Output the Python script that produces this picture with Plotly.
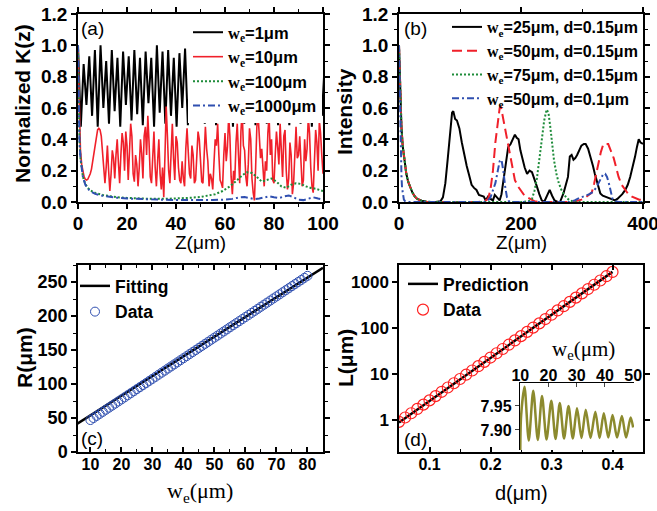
import plotly.graph_objects as go

W, H = 657, 511
def PX(x):
    return x / W
def PY(y):
    return 1 - y / H

# ---------------- data: panel (a) ----------------
a_black_step = 1.15
a_black = [1.00, 0.48, 0.88, 0.62, 0.93, 0.55, 0.97, 0.48, 1.00, 0.60,
           0.90, 0.50, 0.97, 0.58, 0.92, 0.48, 0.96, 0.62, 0.93, 0.52,
           0.97, 0.56, 0.92, 0.49, 0.96, 0.63, 0.92, 0.48, 1.00, 0.57,
           0.96, 0.50, 0.97, 0.55, 0.92, 0.48, 0.95, 0.60, 0.98, 0.49,
           0.92, 0.58, 0.96, 0.62, 0.93, 0.50, 0.97, 0.56, 0.90, 0.49,
           0.98, 0.60, 0.94, 0.55, 0.96, 0.48, 0.92, 0.62, 0.97, 0.50,
           0.95, 0.57, 0.99, 0.49, 0.93, 0.60, 0.96, 0.50, 0.92, 0.58,
           0.97, 0.49, 0.94, 0.62, 0.96, 0.49, 0.91, 0.56, 0.98, 0.50,
           0.93, 0.60, 0.96, 0.48, 0.92, 0.58, 0.88, 0.55]
a_red_step = 0.5
a_red = [1.00, 0.55, 0.33, 0.24, 0.19, 0.16, 0.145, 0.14, 0.145, 0.16,
         0.18, 0.21, 0.26, 0.32, 0.38, 0.43, 0.46, 0.47, 0.46, 0.42,
         0.33, 0.22, 0.12, 0.22, 0.36, 0.20, 0.07, 0.18, 0.33, 0.28,
         0.15, 0.30, 0.40, 0.25, 0.12, 0.30, 0.44, 0.38, 0.20, 0.45,
         0.36, 0.14, 0.28, 0.50, 0.42, 0.18, 0.13, 0.30, 0.24, 0.10,
         0.22, 0.40, 0.31, 0.15, 0.42, 0.48, 0.30, 0.55, 0.38, 0.16,
         0.12, 0.32, 0.45, 0.22, 0.10, 0.26, 0.40, 0.18, 0.08, 0.22,
         0.03, 0.30, 0.61, 0.42, 0.20, 0.12, 0.35, 0.50, 0.28, 0.14,
         0.42, 0.38, 0.22, 0.14, 0.12, 0.26, 0.15, 0.10, 0.34, 0.47,
         0.32, 0.18, 0.15, 0.36, 0.30, 0.12, 0.14, 0.28, 0.45, 0.40,
         0.22, 0.13, 0.12, 0.30, 0.48, 0.34, 0.26, 0.10, 0.18, 0.15,
         0.08, 0.25, 0.40, 0.36, 0.50, 0.30, 0.14, 0.12, 0.09, 0.30,
         0.44, 0.26, 0.35, 0.55, 0.42, 0.16, 0.05, 0.20, 0.14, 0.38,
         0.50, 0.30, 0.12, 0.45, 0.58, 0.36, 0.33, 0.16, 0.10, 0.24,
         0.47, 0.40, 0.15, 0.06, 0.01, 0.22, 0.48, 0.56, 0.42, 0.28,
         0.34, 0.18, 0.10, 0.26, 0.20, 0.44, 0.55, 0.30, 0.40, 0.14,
         0.12, 0.30, 0.45, 0.35, 0.24, 0.50, 0.32, 0.16, 0.42, 0.46,
         0.20, 0.08, 0.15, 0.38, 0.30, 0.05, 0.12, 0.36, 0.48, 0.28,
         0.30, 0.42, 0.25, 0.10, 0.14, 0.40, 0.26, 0.34, 0.54, 0.44,
         0.22, 0.10, 0.06, 0.30, 0.46, 0.38, 0.20, 0.52, 0.44, 0.30,
         0.18]
a_green_z = [0, 0.3, 0.6, 1, 1.5, 2, 3, 4, 5, 7, 10, 13, 16, 20, 25, 30, 35, 40, 45, 50,
             53, 56, 59, 62, 65, 67, 69, 71, 73, 75, 77, 79, 81, 83, 85, 87, 89, 91, 93,
             95, 97, 100]
a_green = [1.0, 0.6, 0.4, 0.28, 0.2, 0.16, 0.115, 0.09, 0.075, 0.058, 0.045, 0.036, 0.03,
           0.026, 0.022, 0.02, 0.02, 0.022, 0.026, 0.032, 0.04, 0.05, 0.07, 0.1, 0.14,
           0.17, 0.19, 0.185, 0.16, 0.13, 0.14, 0.15, 0.13, 0.1, 0.09, 0.11, 0.12, 0.115,
           0.1, 0.09, 0.085, 0.07]
a_blue_z = [0, 0.3, 0.6, 1, 1.5, 2, 3, 4, 5, 7, 10, 13, 16, 20, 25, 30, 35, 40, 45, 50,
            55, 60, 63, 66, 68, 70, 72, 74, 76, 78, 80, 82, 84, 86, 88, 90, 92, 94, 96,
            98, 100]
a_blue = [1.0, 0.6, 0.4, 0.28, 0.2, 0.16, 0.11, 0.085, 0.07, 0.052, 0.04, 0.032, 0.027,
          0.022, 0.018, 0.016, 0.014, 0.013, 0.012, 0.012, 0.013, 0.015, 0.02, 0.03,
          0.032, 0.025, 0.018, 0.022, 0.03, 0.036, 0.03, 0.025, 0.035, 0.042, 0.03,
          0.015, 0.012, 0.02, 0.03, 0.022, 0.015]

# ---------------- data: panel (b) ----------------
b_black_z = [0, 2, 4, 6, 9, 12, 15, 18, 22, 26, 30, 37, 45, 60, 68, 72, 76, 80, 84, 87,
             89, 92, 95, 99, 103, 107, 111, 115, 119, 123, 127, 131, 135, 139, 142, 146,
             150, 154, 157, 161, 165, 168, 171, 175, 179, 183, 187, 190, 193, 196, 199,
             202, 206, 210, 214, 218, 222, 226, 230, 234, 238, 242, 247, 251, 255, 260,
             264, 270, 274, 277, 280, 283, 286, 289, 292, 296, 299, 303, 306, 310, 314,
             318, 321, 324, 327, 330, 334, 338, 342, 346, 350, 354, 358, 362, 366, 371,
             375, 379, 383, 387, 390, 393, 396, 400]
b_black = [1.0, 0.72, 0.48, 0.36, 0.25, 0.18, 0.13, 0.095, 0.06, 0.035, 0.02, 0.008,
           0.002, 0.0, 0.005, 0.03, 0.12, 0.28, 0.45, 0.57, 0.58, 0.53, 0.52, 0.47, 0.38,
           0.3, 0.23, 0.17, 0.11, 0.09, 0.077, 0.045, 0.04, 0.035, 0.01, 0.035, 0.02,
           0.01, 0.045, 0.03, 0.01, 0.05, 0.14, 0.25, 0.35, 0.37, 0.40, 0.43, 0.41, 0.40,
           0.33, 0.28, 0.22, 0.18, 0.20, 0.19, 0.15, 0.10, 0.05, 0.01, 0.0, 0.03, 0.077,
           0.04, 0.01, 0.0, 0.0, 0.06, 0.12, 0.16, 0.29, 0.30, 0.27, 0.28, 0.30, 0.34,
           0.36, 0.37, 0.37, 0.34, 0.29, 0.23, 0.18, 0.14, 0.09, 0.055, 0.04, 0.034,
           0.03, 0.023, 0.015, 0.01, 0.02, 0.034, 0.05, 0.077, 0.11, 0.16, 0.22, 0.29,
           0.35, 0.40, 0.38, 0.37]
b_red_z = [0, 2, 4, 6, 9, 12, 15, 18, 22, 26, 30, 37, 45, 60, 130, 140, 146, 150, 154,
           158, 162, 165, 167, 170, 174, 178, 182, 186, 190, 195, 199, 204, 210, 216,
           222, 230, 280, 290, 299, 306, 312, 316, 320, 324, 327, 331, 335, 339, 343,
           347, 352, 356, 360, 365, 371, 376, 382, 388, 394, 400]
b_red = [1.0, 0.72, 0.48, 0.36, 0.25, 0.18, 0.13, 0.095, 0.06, 0.035, 0.02, 0.008, 0.002,
         0.0, 0.0, 0.005, 0.02, 0.08, 0.2, 0.38, 0.52, 0.6, 0.61, 0.55, 0.47, 0.4, 0.3,
         0.22, 0.14, 0.1, 0.077, 0.05, 0.03, 0.015, 0.005, 0.0, 0.0, 0.005, 0.015, 0.03,
         0.05, 0.06, 0.12, 0.2, 0.25, 0.32, 0.37, 0.37, 0.37, 0.33, 0.28, 0.22, 0.16,
         0.11, 0.077, 0.05, 0.034, 0.025, 0.015, 0.012]
b_green_z = [0, 2, 4, 6, 9, 12, 15, 18, 22, 26, 30, 37, 45, 60, 200, 212, 218, 222, 226,
             230, 234, 238, 242, 245, 248, 251, 254, 258, 262, 266, 270, 275, 280, 288, 400]
b_green = [1.0, 0.72, 0.48, 0.36, 0.25, 0.18, 0.13, 0.095, 0.06, 0.035, 0.02, 0.008,
           0.002, 0.0, 0.0, 0.005, 0.02, 0.07, 0.15, 0.27, 0.4, 0.52, 0.59, 0.57, 0.48,
           0.36, 0.27, 0.18, 0.12, 0.08, 0.05, 0.025, 0.01, 0.0, 0.0]
b_blue_z = [0, 1, 2, 3, 4, 5, 6, 8, 10, 14, 140, 146, 150, 154, 158, 162, 165, 168, 171,
            174, 177, 180, 185, 280, 288, 295, 300, 306, 312, 318, 323, 327, 331, 335,
            338, 341, 344, 347, 350, 354, 360, 400]
b_blue = [1.0, 0.75, 0.5, 0.3, 0.17, 0.09, 0.05, 0.015, 0.005, 0.0, 0.0, 0.01, 0.03,
          0.07, 0.12, 0.2, 0.26, 0.27, 0.2, 0.1, 0.03, 0.005, 0.0, 0.0, 0.01, 0.025,
          0.034, 0.04, 0.05, 0.065, 0.09, 0.12, 0.15, 0.18, 0.18, 0.16, 0.12, 0.06, 0.02,
          0.005, 0.0, 0.0]

# ---------------- data: panel (c) ----------------
c_w = [10, 11, 12, 13, 14, 15, 16, 17, 18, 19, 20, 21, 22, 23, 24, 25, 26, 27, 28, 29,
       30, 31, 32, 33, 34, 35, 36, 37, 38, 39, 40, 41, 42, 43, 44, 45, 46, 47, 48, 49,
       50, 51, 52, 53, 54, 55, 56, 57, 58, 59, 60, 61, 62, 63, 64, 65, 66, 67, 68, 69,
       70, 71, 72, 73, 74, 75, 76, 77, 78, 79, 80]
c_R = [47.0, 50.0, 53.1, 56.1, 59.1, 62.2, 65.2, 68.2, 71.2, 74.3, 77.3, 80.3, 83.4,
       86.4, 89.4, 92.5, 95.5, 98.5, 101.5, 104.6, 107.6, 110.6, 113.7, 116.7, 119.7,
       122.8, 125.8, 128.8, 131.8, 134.9, 137.9, 140.9, 144.0, 147.0, 150.0, 153.1,
       156.1, 159.1, 162.1, 165.2, 168.2, 171.2, 174.3, 177.3, 180.3, 183.4, 186.4,
       189.4, 192.4, 195.5, 198.5, 201.5, 204.6, 207.6, 210.6, 213.7, 216.7, 219.7,
       222.7, 225.8, 228.8, 231.8, 234.9, 237.9, 240.9, 244.0, 247.0, 250.0, 253.0,
       256.1, 259.1]
c_fit_w = [5, 85]
c_fit_R = [39.5, 271.0]

# ---------------- data: panel (d) ----------------
d_d = [0.05, 0.06, 0.07, 0.08, 0.09, 0.10, 0.11, 0.12, 0.13, 0.14, 0.15, 0.16, 0.17,
       0.18, 0.19, 0.20, 0.21, 0.22, 0.23, 0.24, 0.25, 0.26, 0.27, 0.28, 0.29, 0.30,
       0.31, 0.32, 0.33, 0.34, 0.35, 0.36, 0.37, 0.38, 0.39, 0.40]
d_L = [0.91, 1.13, 1.40, 1.74, 2.16, 2.67, 3.31, 4.11, 5.10, 6.32, 7.83, 9.71, 12.0,
       14.9, 18.5, 23.0, 28.5, 35.3, 43.8, 54.3, 67.3, 83.4, 103.5, 128, 159, 197,
       245, 303, 376, 466, 578, 717, 889, 1102, 1367, 1694]
d_pred_d = [0.05, 0.40]
d_pred_L = [0.88, 1700]
d_ticks = [1, 10, 100, 1000]

# inset of (d)
ins_w = [10.0, 10.3, 11.5, 13.0, 14.6, 16.2, 17.7, 19.3, 21.0, 22.5, 24.0, 25.5, 27.1,
         28.6, 30.1, 31.7, 33.2, 34.9, 36.6, 38.1, 39.6, 41.2, 42.7, 44.3, 46.0, 47.5,
         49.1, 50.0]
ins_v = [7.858, 7.93, 7.990, 7.878, 7.982, 7.879, 7.971, 7.880, 7.961, 7.881, 7.956,
         7.882, 7.950, 7.882, 7.945, 7.883, 7.942, 7.883, 7.938, 7.883, 7.935, 7.884,
         7.931, 7.884, 7.929, 7.884, 7.926, 7.905]
ins_ticks = [7.90, 7.95]

# ---------------- styles ----------------
BLACK = "#000000"
RED = "#f0202a"
GREEN = "#1e8c3a"
BLUE = "#2f4fb0"
OLIVE = "#8c8a2e"
SANS = "Liberation Sans"
SERIF = "Liberation Serif"

def wlab(rest):
    return ('<b><span style="font-family:%s">w</span><sub><span style="font-family:%s">e</span></sub>%s</b>'
            % (SERIF, SERIF, rest))

fig = go.Figure()

a_black_z = [i * a_black_step for i in range(len(a_black))]
a_red_z = [i * a_red_step for i in range(len(a_red))]

fig.add_trace(go.Scatter(x=a_black_z, y=a_black, mode="lines", name=wlab("=1μm"),
                         line=dict(color=BLACK, width=2), xaxis="x", yaxis="y", legend="legend"))
fig.add_trace(go.Scatter(x=a_red_z, y=a_red, mode="lines", name=wlab("=10μm"),
                         line=dict(color=RED, width=1.6), xaxis="x", yaxis="y", legend="legend"))
fig.add_trace(go.Scatter(x=a_green_z, y=a_green, mode="lines", name=wlab("=100μm"),
                         line=dict(color=GREEN, width=2, dash="2px,2px"), xaxis="x", yaxis="y",
                         legend="legend"))
fig.add_trace(go.Scatter(x=a_blue_z, y=a_blue, mode="lines", name=wlab("=1000μm"),
                         line=dict(color=BLUE, width=2, dash="7px,3px,2px,3px"), xaxis="x",
                         yaxis="y", legend="legend"))

fig.add_trace(go.Scatter(x=b_black_z, y=b_black, mode="lines", name=wlab("=25μm, d=0.15μm"),
                         line=dict(color=BLACK, width=2), xaxis="x2", yaxis="y2", legend="legend2"))
fig.add_trace(go.Scatter(x=b_red_z, y=b_red, mode="lines", name=wlab("=50μm, d=0.15μm"),
                         line=dict(color=RED, width=2, dash="10px,5px"), xaxis="x2", yaxis="y2",
                         legend="legend2"))
fig.add_trace(go.Scatter(x=b_green_z, y=b_green, mode="lines", name=wlab("=75μm, d=0.15μm"),
                         line=dict(color=GREEN, width=2, dash="2px,2px"), xaxis="x2", yaxis="y2",
                         legend="legend2"))
fig.add_trace(go.Scatter(x=b_blue_z, y=b_blue, mode="lines", name=wlab("=50μm, d=0.1μm"),
                         line=dict(color=BLUE, width=2, dash="7px,3px,2px,3px"), xaxis="x2",
                         yaxis="y2", legend="legend2"))

fig.add_trace(go.Scatter(x=c_fit_w, y=c_fit_R, mode="lines", name="<b>Fitting</b>",
                         line=dict(color=BLACK, width=2.5), xaxis="x3", yaxis="y3", legend="legend3"))
fig.add_trace(go.Scatter(x=c_w, y=c_R, mode="markers", name="<b>Data</b>",
                         marker=dict(symbol="circle-open", size=9, color=BLUE, line=dict(width=1)),
                         xaxis="x3", yaxis="y3", legend="legend3"))

fig.add_trace(go.Scatter(x=d_pred_d, y=d_pred_L, mode="lines", name="<b>Prediction</b>",
                         line=dict(color=BLACK, width=2.5), xaxis="x4", yaxis="y4", legend="legend4"))
fig.add_trace(go.Scatter(x=d_d, y=d_L, mode="markers", name="<b>Data</b>",
                         marker=dict(symbol="circle-open", size=11, color="#ff2020", line=dict(width=1.2)),
                         xaxis="x4", yaxis="y4", legend="legend4"))

fig.add_trace(go.Scatter(x=ins_w, y=ins_v, mode="lines", showlegend=False,
                         line=dict(color=OLIVE, width=2.5, shape="spline", smoothing=0.8),
                         xaxis="x5", yaxis="y5"))

def tf(size):
    return dict(family=SANS, size=size, color="black", weight=700)

def ax(domain, rng, anchor, dtick=None, minor=None, fsize=19, ticks="outside", **kw):
    d = dict(domain=domain, range=rng, anchor=anchor, showline=True, linecolor="black",
             linewidth=1.5, mirror="ticks", ticks=ticks, ticklen=5, tickwidth=1.5,
             tickcolor="black", showgrid=False, zeroline=False, tickfont=tf(fsize),
             automargin=False, tickprefix="<b>", ticksuffix="</b>",
             ticklabeloverflow="allow")
    if dtick is not None:
        d["dtick"] = dtick
    if minor is not None:
        d["minor"] = dict(ticks=ticks, ticklen=3, tickwidth=1.2, tickcolor="black",
                          dtick=minor, showgrid=False)
    d.update(kw)
    return d

xa = [PX(78), PX(323)]
xb = [PX(399), PX(643)]
ytop = [PY(202), PY(14)]
ybot = [PY(452), PY(265)]

fig.update_layout(
    width=W, height=H, autosize=False,
    margin=dict(l=0, r=0, t=0, b=0, pad=0),
    paper_bgcolor="white", plot_bgcolor="white",
    xaxis=ax(xa, [0, 100], "y", 20, 10, 19, ticklabelstandoff=-2),
    yaxis=ax(ytop, [0, 1.2], "x", 0.2, 0.1, 19, tickformat=".1f"),
    xaxis2=ax(xb, [0, 400], "y2", 200, 100, 19, ticklabelstandoff=-2),
    yaxis2=ax(ytop, [0, 1.2], "x2", 0.2, 0.1, 19, tickformat=".1f"),
    xaxis3=ax(xa, [6, 85], "y3", 10, 5, 16, ticks="inside", tick0=0, ticklabelstandoff=-3),
    yaxis3=ax(ybot, [0, 275], "x3", 50, 25, 18),
    xaxis4=ax(xb, [0.05, 0.45], "y4", 0.1, 0.05, 16, ticks="inside", tick0=0,
              tickformat=".1f", ticklabelstandoff=-3),
    yaxis4=ax(ybot, [-0.699, 3.38], "x4", None, None, 17, type="log", tickvals=d_ticks,
              ticktext=["<b>%d</b>" % v for v in d_ticks], tickprefix="", ticksuffix=""),
    xaxis5=dict(domain=[PX(520), PX(634)], range=[9.9, 50.3], anchor="y5", side="top",
                showline=True, linecolor="black", linewidth=1.3, ticks="inside", ticklen=4,
                tickwidth=1.3, dtick=10, tick0=0, showgrid=False, zeroline=False,
                automargin=False, tickfont=tf(16), tickprefix="<b>", ticksuffix="</b>",
                ticklabelstandoff=-6, ticklabeloverflow="allow"),
    yaxis5=dict(domain=[PY(450), PY(383)], range=[7.858, 7.998], anchor="x5",
                showline=True, linecolor="black", linewidth=1.3, ticks="outside", ticklen=4,
                tickwidth=1.3, tickvals=ins_ticks,
                ticktext=["<b>%.2f</b>" % v for v in ins_ticks], showgrid=False,
                zeroline=False, automargin=False, tickfont=tf(16), ticklabeloverflow="allow"),
    legend=dict(x=PX(322), xanchor="right", y=PY(15), yanchor="top", bgcolor="white",
                font=tf(16.5), borderwidth=0),
    legend2=dict(x=PX(643), xanchor="right", y=PY(10), yanchor="top",
                 bgcolor="rgba(255,255,255,0)", font=tf(16), borderwidth=0),
    legend3=dict(x=PX(75), xanchor="left", y=PY(268), yanchor="top",
                 bgcolor="rgba(255,255,255,0)", font=tf(17.5), borderwidth=0),
    legend4=dict(x=PX(403), xanchor="left", y=PY(266), yanchor="top",
                 bgcolor="rgba(255,255,255,0)", font=tf(17.5), borderwidth=0),
    showlegend=True,
)

def note(text, x, y, size=18, family=SANS, weight="normal", angle=0):
    fig.add_annotation(text=text, x=PX(x), y=PY(y), xref="paper", yref="paper",
                       showarrow=False, textangle=angle, xanchor="center", yanchor="middle",
                       font=dict(family=family, size=size, color="black", weight=weight))

note("Normalized K(z)", 22, 104, 21, weight="bold", angle=-90)
note("Intensity", 344, 112, 21, weight="bold", angle=-90)
note("Z(μm)", 200, 242, 19)
note("Z(μm)", 521, 242, 19)
note("R(μm)", 24, 358, 21, weight="bold", angle=-90)
note("L(μm)", 345, 358, 21, weight="bold", angle=-90)
note("w<sub>e</sub>(μm)", 200, 492, 22, family=SERIF)
note("d(μm)", 521, 493, 20)
note("w<sub>e</sub>(μm)", 583, 350, 21, family=SERIF)
note("(a)", 92, 29, 19)
note("(b)", 415, 29, 19)
note("(c)", 92, 438, 19)
note("(d)", 415, 439, 19)

fig.write_html("out.html", config={"displayModeBar": False},
               post_script="document.body.style.margin='0px';")
